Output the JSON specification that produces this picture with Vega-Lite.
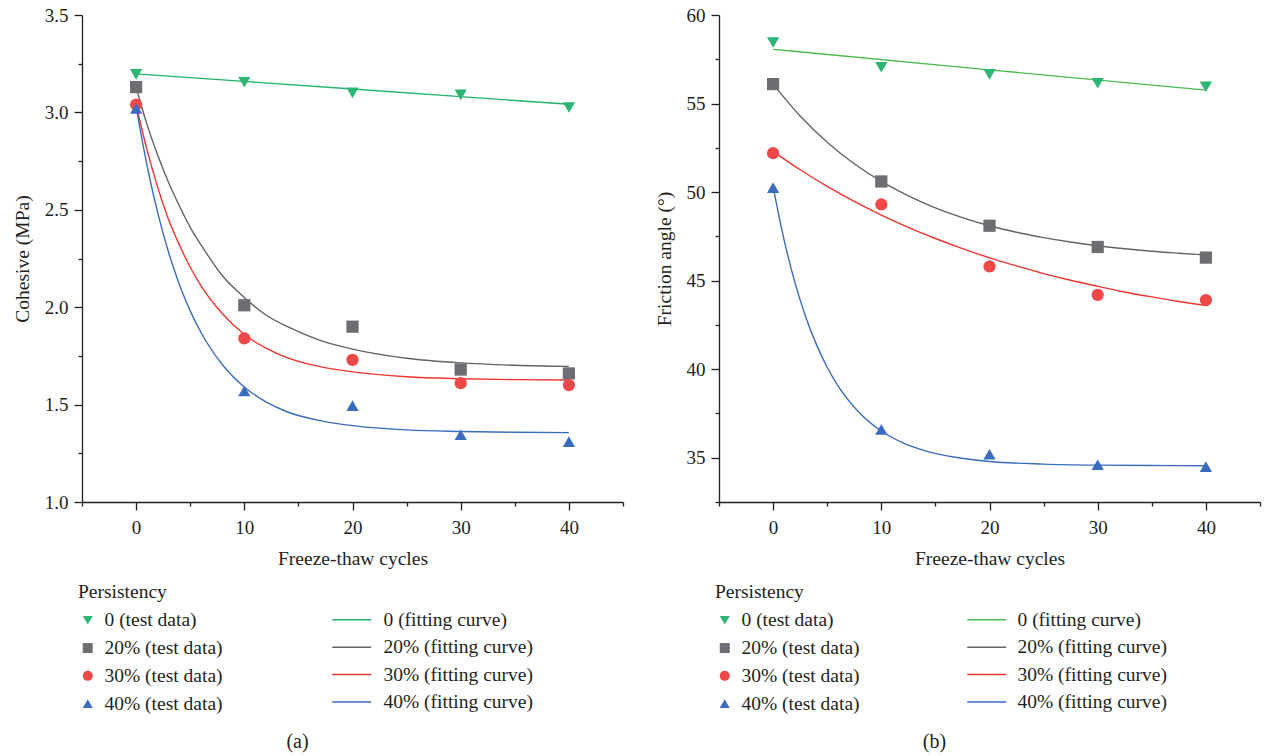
{
  "$schema": "https://vega.github.io/schema/vega-lite/v6.json",
  "background": "white",
  "padding": {"left": 12, "top": 6, "right": 5, "bottom": 5},
  "spacing": 30,
  "config": {
    "view": {"stroke": null},
    "font": "Liberation Serif",
    "axis": {
      "grid": false,
      "domainColor": "#231f20",
      "domainWidth": 1.3,
      "tickColor": "#231f20",
      "tickWidth": 1.3,
      "labelFont": "Liberation Serif",
      "labelFontSize": 19,
      "labelColor": "#231f20",
      "titleFont": "Liberation Serif",
      "titleFontSize": 19.5,
      "titleFontWeight": "normal",
      "titleColor": "#231f20"
    },
    "legend": {
      "labelFont": "Liberation Serif",
      "labelFontSize": 19.5,
      "labelColor": "#231f20",
      "titleFont": "Liberation Serif",
      "titleFontSize": 19.5,
      "titleFontWeight": "normal",
      "titleColor": "#231f20",
      "labelLimit": 400
    },
    "title": {"font": "Liberation Serif", "fontSize": 20, "fontWeight": "normal", "color": "#231f20"}
  },
  "datasets": {
    "cohesion_pts": [
      {"cycles": 0, "value": 3.195, "series": "0 (test data)"},
      {"cycles": 10, "value": 3.155, "series": "0 (test data)"},
      {"cycles": 20, "value": 3.10, "series": "0 (test data)"},
      {"cycles": 30, "value": 3.09, "series": "0 (test data)"},
      {"cycles": 40, "value": 3.025, "series": "0 (test data)"},
      {"cycles": 0, "value": 3.13, "series": "20% (test data)"},
      {"cycles": 10, "value": 2.01, "series": "20% (test data)"},
      {"cycles": 20, "value": 1.90, "series": "20% (test data)"},
      {"cycles": 30, "value": 1.68, "series": "20% (test data)"},
      {"cycles": 40, "value": 1.66, "series": "20% (test data)"},
      {"cycles": 0, "value": 3.04, "series": "30% (test data)"},
      {"cycles": 10, "value": 1.84, "series": "30% (test data)"},
      {"cycles": 20, "value": 1.73, "series": "30% (test data)"},
      {"cycles": 30, "value": 1.61, "series": "30% (test data)"},
      {"cycles": 40, "value": 1.60, "series": "30% (test data)"},
      {"cycles": 0, "value": 3.02, "series": "40% (test data)"},
      {"cycles": 10, "value": 1.57, "series": "40% (test data)"},
      {"cycles": 20, "value": 1.495, "series": "40% (test data)"},
      {"cycles": 30, "value": 1.345, "series": "40% (test data)"},
      {"cycles": 40, "value": 1.31, "series": "40% (test data)"}
    ],
    "cohesion_fit": [
      {"cycles": 0, "value": 3.198, "curve": "0 (fitting curve)"},
      {"cycles": 20, "value": 3.12, "curve": "0 (fitting curve)"},
      {"cycles": 40, "value": 3.042, "curve": "0 (fitting curve)"},
      {"cycles": 0, "value": 3.13, "curve": "20% (fitting curve)"},
      {"cycles": 1, "value": 2.94, "curve": "20% (fitting curve)"},
      {"cycles": 2, "value": 2.78, "curve": "20% (fitting curve)"},
      {"cycles": 3, "value": 2.64, "curve": "20% (fitting curve)"},
      {"cycles": 4, "value": 2.52, "curve": "20% (fitting curve)"},
      {"cycles": 5, "value": 2.41, "curve": "20% (fitting curve)"},
      {"cycles": 6, "value": 2.32, "curve": "20% (fitting curve)"},
      {"cycles": 8, "value": 2.16, "curve": "20% (fitting curve)"},
      {"cycles": 10, "value": 2.05, "curve": "20% (fitting curve)"},
      {"cycles": 12, "value": 1.96, "curve": "20% (fitting curve)"},
      {"cycles": 14, "value": 1.90, "curve": "20% (fitting curve)"},
      {"cycles": 17, "value": 1.83, "curve": "20% (fitting curve)"},
      {"cycles": 20, "value": 1.785, "curve": "20% (fitting curve)"},
      {"cycles": 25, "value": 1.738, "curve": "20% (fitting curve)"},
      {"cycles": 30, "value": 1.714, "curve": "20% (fitting curve)"},
      {"cycles": 35, "value": 1.702, "curve": "20% (fitting curve)"},
      {"cycles": 40, "value": 1.696, "curve": "20% (fitting curve)"},
      {"cycles": 0, "value": 3.04, "curve": "30% (fitting curve)"},
      {"cycles": 1, "value": 2.81, "curve": "30% (fitting curve)"},
      {"cycles": 2, "value": 2.615, "curve": "30% (fitting curve)"},
      {"cycles": 3, "value": 2.45, "curve": "30% (fitting curve)"},
      {"cycles": 4, "value": 2.32, "curve": "30% (fitting curve)"},
      {"cycles": 5, "value": 2.205, "curve": "30% (fitting curve)"},
      {"cycles": 6, "value": 2.11, "curve": "30% (fitting curve)"},
      {"cycles": 8, "value": 1.965, "curve": "30% (fitting curve)"},
      {"cycles": 10, "value": 1.86, "curve": "30% (fitting curve)"},
      {"cycles": 12, "value": 1.79, "curve": "30% (fitting curve)"},
      {"cycles": 14, "value": 1.74, "curve": "30% (fitting curve)"},
      {"cycles": 17, "value": 1.695, "curve": "30% (fitting curve)"},
      {"cycles": 20, "value": 1.668, "curve": "30% (fitting curve)"},
      {"cycles": 25, "value": 1.643, "curve": "30% (fitting curve)"},
      {"cycles": 30, "value": 1.633, "curve": "30% (fitting curve)"},
      {"cycles": 35, "value": 1.628, "curve": "30% (fitting curve)"},
      {"cycles": 40, "value": 1.626, "curve": "30% (fitting curve)"},
      {"cycles": 0, "value": 3.03, "curve": "40% (fitting curve)"},
      {"cycles": 1, "value": 2.73, "curve": "40% (fitting curve)"},
      {"cycles": 2, "value": 2.484, "curve": "40% (fitting curve)"},
      {"cycles": 3, "value": 2.282, "curve": "40% (fitting curve)"},
      {"cycles": 4, "value": 2.117, "curve": "40% (fitting curve)"},
      {"cycles": 5, "value": 1.981, "curve": "40% (fitting curve)"},
      {"cycles": 6, "value": 1.87, "curve": "40% (fitting curve)"},
      {"cycles": 8, "value": 1.703, "curve": "40% (fitting curve)"},
      {"cycles": 10, "value": 1.59, "curve": "40% (fitting curve)"},
      {"cycles": 12, "value": 1.514, "curve": "40% (fitting curve)"},
      {"cycles": 14, "value": 1.462, "curve": "40% (fitting curve)"},
      {"cycles": 17, "value": 1.418, "curve": "40% (fitting curve)"},
      {"cycles": 20, "value": 1.392, "curve": "40% (fitting curve)"},
      {"cycles": 25, "value": 1.37, "curve": "40% (fitting curve)"},
      {"cycles": 30, "value": 1.362, "curve": "40% (fitting curve)"},
      {"cycles": 35, "value": 1.358, "curve": "40% (fitting curve)"},
      {"cycles": 40, "value": 1.356, "curve": "40% (fitting curve)"}
    ],
    "friction_pts": [
      {"cycles": 0, "value": 58.45, "series": "0 (test data)"},
      {"cycles": 10, "value": 57.05, "series": "0 (test data)"},
      {"cycles": 20, "value": 56.65, "series": "0 (test data)"},
      {"cycles": 30, "value": 56.15, "series": "0 (test data)"},
      {"cycles": 40, "value": 55.95, "series": "0 (test data)"},
      {"cycles": 0, "value": 56.1, "series": "20% (test data)"},
      {"cycles": 10, "value": 50.6, "series": "20% (test data)"},
      {"cycles": 20, "value": 48.1, "series": "20% (test data)"},
      {"cycles": 30, "value": 46.9, "series": "20% (test data)"},
      {"cycles": 40, "value": 46.3, "series": "20% (test data)"},
      {"cycles": 0, "value": 52.2, "series": "30% (test data)"},
      {"cycles": 10, "value": 49.3, "series": "30% (test data)"},
      {"cycles": 20, "value": 45.8, "series": "30% (test data)"},
      {"cycles": 30, "value": 44.2, "series": "30% (test data)"},
      {"cycles": 40, "value": 43.9, "series": "30% (test data)"},
      {"cycles": 0, "value": 50.25, "series": "40% (test data)"},
      {"cycles": 10, "value": 36.6, "series": "40% (test data)"},
      {"cycles": 20, "value": 35.2, "series": "40% (test data)"},
      {"cycles": 30, "value": 34.6, "series": "40% (test data)"},
      {"cycles": 40, "value": 34.5, "series": "40% (test data)"}
    ],
    "friction_fit": [
      {"cycles": 0, "value": 58.06, "curve": "0 (fitting curve)"},
      {"cycles": 20, "value": 56.9, "curve": "0 (fitting curve)"},
      {"cycles": 40, "value": 55.76, "curve": "0 (fitting curve)"},
      {"cycles": 0, "value": 56.1, "curve": "20% (fitting curve)"},
      {"cycles": 2.5, "value": 54.3, "curve": "20% (fitting curve)"},
      {"cycles": 5, "value": 52.82, "curve": "20% (fitting curve)"},
      {"cycles": 7.5, "value": 51.6, "curve": "20% (fitting curve)"},
      {"cycles": 10, "value": 50.6, "curve": "20% (fitting curve)"},
      {"cycles": 12.5, "value": 49.79, "curve": "20% (fitting curve)"},
      {"cycles": 15, "value": 49.11, "curve": "20% (fitting curve)"},
      {"cycles": 17.5, "value": 48.56, "curve": "20% (fitting curve)"},
      {"cycles": 20, "value": 48.1, "curve": "20% (fitting curve)"},
      {"cycles": 22.5, "value": 47.73, "curve": "20% (fitting curve)"},
      {"cycles": 25, "value": 47.43, "curve": "20% (fitting curve)"},
      {"cycles": 27.5, "value": 47.18, "curve": "20% (fitting curve)"},
      {"cycles": 30, "value": 46.97, "curve": "20% (fitting curve)"},
      {"cycles": 32.5, "value": 46.8, "curve": "20% (fitting curve)"},
      {"cycles": 35, "value": 46.66, "curve": "20% (fitting curve)"},
      {"cycles": 37.5, "value": 46.55, "curve": "20% (fitting curve)"},
      {"cycles": 40, "value": 46.45, "curve": "20% (fitting curve)"},
      {"cycles": 0, "value": 52.3, "curve": "30% (fitting curve)"},
      {"cycles": 2.5, "value": 51.26, "curve": "30% (fitting curve)"},
      {"cycles": 5, "value": 50.32, "curve": "30% (fitting curve)"},
      {"cycles": 7.5, "value": 49.47, "curve": "30% (fitting curve)"},
      {"cycles": 10, "value": 48.7, "curve": "30% (fitting curve)"},
      {"cycles": 12.5, "value": 48.01, "curve": "30% (fitting curve)"},
      {"cycles": 15, "value": 47.38, "curve": "30% (fitting curve)"},
      {"cycles": 17.5, "value": 46.81, "curve": "30% (fitting curve)"},
      {"cycles": 20, "value": 46.29, "curve": "30% (fitting curve)"},
      {"cycles": 22.5, "value": 45.83, "curve": "30% (fitting curve)"},
      {"cycles": 25, "value": 45.4, "curve": "30% (fitting curve)"},
      {"cycles": 27.5, "value": 45.02, "curve": "30% (fitting curve)"},
      {"cycles": 30, "value": 44.68, "curve": "30% (fitting curve)"},
      {"cycles": 32.5, "value": 44.36, "curve": "30% (fitting curve)"},
      {"cycles": 35, "value": 44.08, "curve": "30% (fitting curve)"},
      {"cycles": 37.5, "value": 43.82, "curve": "30% (fitting curve)"},
      {"cycles": 40, "value": 43.59, "curve": "30% (fitting curve)"},
      {"cycles": 0, "value": 50.3, "curve": "40% (fitting curve)"},
      {"cycles": 1, "value": 47.34, "curve": "40% (fitting curve)"},
      {"cycles": 2, "value": 44.93, "curve": "40% (fitting curve)"},
      {"cycles": 3, "value": 42.98, "curve": "40% (fitting curve)"},
      {"cycles": 4, "value": 41.4, "curve": "40% (fitting curve)"},
      {"cycles": 5, "value": 40.11, "curve": "40% (fitting curve)"},
      {"cycles": 6, "value": 39.06, "curve": "40% (fitting curve)"},
      {"cycles": 8, "value": 37.53, "curve": "40% (fitting curve)"},
      {"cycles": 10, "value": 36.51, "curve": "40% (fitting curve)"},
      {"cycles": 12, "value": 35.84, "curve": "40% (fitting curve)"},
      {"cycles": 14, "value": 35.4, "curve": "40% (fitting curve)"},
      {"cycles": 17, "value": 35.01, "curve": "40% (fitting curve)"},
      {"cycles": 20, "value": 34.79, "curve": "40% (fitting curve)"},
      {"cycles": 25, "value": 34.64, "curve": "40% (fitting curve)"},
      {"cycles": 30, "value": 34.58, "curve": "40% (fitting curve)"},
      {"cycles": 35, "value": 34.56, "curve": "40% (fitting curve)"},
      {"cycles": 40, "value": 34.55, "curve": "40% (fitting curve)"}
    ]
  },
  "resolve": {
    "scale": {"x": "independent", "y": "independent", "color": "independent", "shape": "independent", "stroke": "independent"},
    "legend": {"color": "independent", "shape": "independent", "stroke": "independent"}
  },
  "hconcat": [
    {
      "width": 541,
      "height": 487,
      "title": {"text": "(a)", "orient": "bottom", "anchor": "middle", "dx": -55, "offset": 18},
      "layer": [
        {
          "data": {"name": "cohesion_fit"},
          "mark": {"type": "line", "interpolate": "monotone", "strokeWidth": 1.4},
          "encoding": {
            "x": {"field": "cycles", "type": "quantitative", "scale": {"domain": [-5, 45], "nice": false, "zero": false},
              "axis": {"title": "Freeze-thaw cycles", "values": [-5, 0, 5, 10, 15, 20, 25, 30, 35, 40, 45],
                "labelExpr": "datum.value % 10 === 0 ? datum.label : ''",
                "tickSize": {"condition": {"test": "datum.value % 10 !== 0", "value": 4}, "value": 8},
                "labelPadding": 8, "titlePadding": 12}},
            "y": {"field": "value", "type": "quantitative", "scale": {"domain": [1.0, 3.5], "nice": false, "zero": false},
              "axis": {"title": "Cohesive (MPa)", "values": [1.0, 1.25, 1.5, 1.75, 2.0, 2.25, 2.5, 2.75, 3.0, 3.25, 3.5],
                "labelExpr": "(datum.value * 2) % 1 === 0 ? format(datum.value, '.1f') : ''",
                "tickSize": {"condition": {"test": "(datum.value * 2) % 1 !== 0", "value": 4}, "value": 8},
                "labelPadding": 6, "titlePadding": 12}},
            "stroke": {"field": "curve", "type": "nominal",
              "scale": {"domain": ["0 (fitting curve)", "20% (fitting curve)", "30% (fitting curve)", "40% (fitting curve)"],
                "range": ["#22b46c", "#636466", "#f0352e", "#3a6cc1"]},
              "legend": {"orient": "none", "legendX": 260, "legendY": 595, "title": null,
                "symbolType": "M-3,0H3", "symbolSize": 169,
                "symbolStrokeWidth": 1.5, "labelOffset": 22, "rowPadding": 6.4}}
          }
        },
        {
          "data": {"name": "cohesion_pts"},
          "mark": {"type": "point", "filled": true, "opacity": 1, "size": 150},
          "encoding": {
            "x": {"field": "cycles", "type": "quantitative"},
            "y": {"field": "value", "type": "quantitative"},
            "color": {"field": "series", "type": "nominal",
              "scale": {"domain": ["0 (test data)", "20% (test data)", "30% (test data)", "40% (test data)"],
                "range": ["#2bb673", "#6d6e71", "#ef4848", "#3a6bbf"]},
              "legend": {"orient": "none", "legendX": -4, "legendY": 568, "title": "Persistency", "symbolSize": 100,
                "labelOffset": 7, "rowPadding": 6.8, "titlePadding": 8}},
            "shape": {"field": "series", "type": "nominal",
              "scale": {"domain": ["0 (test data)", "20% (test data)", "30% (test data)", "40% (test data)"],
                "range": ["triangle-down", "square", "circle", "triangle-up"]},
              "legend": {"orient": "none", "legendX": -4, "legendY": 568, "title": "Persistency", "symbolSize": 100,
                "labelOffset": 7, "rowPadding": 6.8, "titlePadding": 8}}
          }
        }
      ]
    },
    {
      "width": 541,
      "height": 487,
      "title": {"text": "(b)", "orient": "bottom", "anchor": "middle", "dx": -55, "offset": 18},
      "layer": [
        {
          "data": {"name": "friction_fit"},
          "mark": {"type": "line", "interpolate": "monotone", "strokeWidth": 1.4},
          "encoding": {
            "x": {"field": "cycles", "type": "quantitative", "scale": {"domain": [-5, 45], "nice": false, "zero": false},
              "axis": {"title": "Freeze-thaw cycles", "values": [-5, 0, 5, 10, 15, 20, 25, 30, 35, 40, 45],
                "labelExpr": "datum.value % 10 === 0 ? datum.label : ''",
                "tickSize": {"condition": {"test": "datum.value % 10 !== 0", "value": 4}, "value": 8},
                "labelPadding": 8, "titlePadding": 12}},
            "y": {"field": "value", "type": "quantitative", "scale": {"domain": [32.5, 60], "nice": false, "zero": false},
              "axis": {"title": "Friction angle (°)", "values": [32.5, 35, 37.5, 40, 42.5, 45, 47.5, 50, 52.5, 55, 57.5, 60],
                "labelExpr": "datum.value % 5 === 0 ? datum.label : ''",
                "tickSize": {"condition": {"test": "datum.value % 5 !== 0", "value": 4}, "value": 8},
                "labelPadding": 6, "titlePadding": 12}},
            "stroke": {"field": "curve", "type": "nominal",
              "scale": {"domain": ["0 (fitting curve)", "20% (fitting curve)", "30% (fitting curve)", "40% (fitting curve)"],
                "range": ["#4cbc4f", "#636466", "#f0352e", "#3a6cc1"]},
              "legend": {"orient": "none", "legendX": 258, "legendY": 595, "title": null,
                "symbolType": "M-3,0H3", "symbolSize": 169,
                "symbolStrokeWidth": 1.5, "labelOffset": 21, "rowPadding": 6.4}}
          }
        },
        {
          "data": {"name": "friction_pts"},
          "mark": {"type": "point", "filled": true, "opacity": 1, "size": 150},
          "encoding": {
            "x": {"field": "cycles", "type": "quantitative"},
            "y": {"field": "value", "type": "quantitative"},
            "color": {"field": "series", "type": "nominal",
              "scale": {"domain": ["0 (test data)", "20% (test data)", "30% (test data)", "40% (test data)"],
                "range": ["#2bb673", "#6d6e71", "#ef4848", "#3a6bbf"]},
              "legend": {"orient": "none", "legendX": -4, "legendY": 568, "title": "Persistency", "symbolSize": 100,
                "labelOffset": 7, "rowPadding": 6.8, "titlePadding": 8}},
            "shape": {"field": "series", "type": "nominal",
              "scale": {"domain": ["0 (test data)", "20% (test data)", "30% (test data)", "40% (test data)"],
                "range": ["triangle-down", "square", "circle", "triangle-up"]},
              "legend": {"orient": "none", "legendX": -4, "legendY": 568, "title": "Persistency", "symbolSize": 100,
                "labelOffset": 7, "rowPadding": 6.8, "titlePadding": 8}}
          }
        }
      ]
    }
  ]
}
